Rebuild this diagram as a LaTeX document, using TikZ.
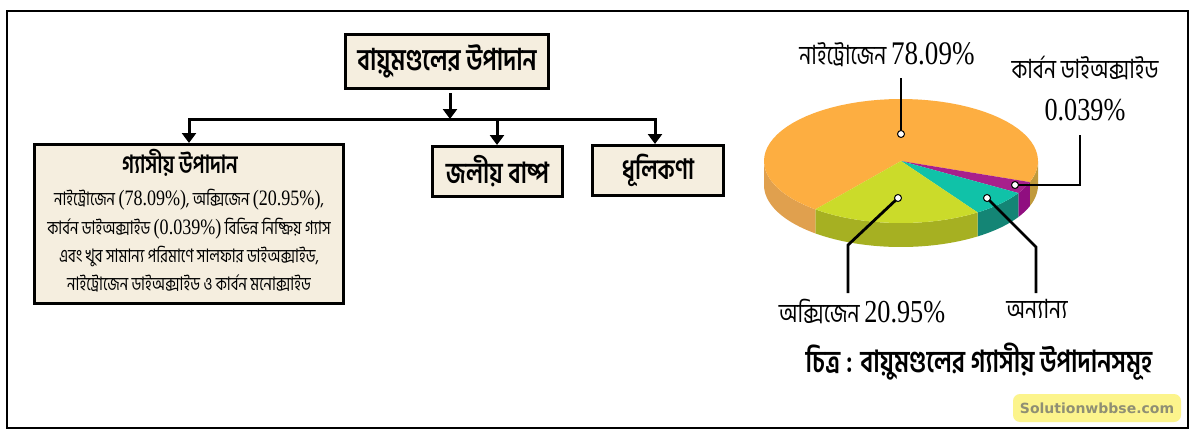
\documentclass[tikz,border=0pt]{standalone}
\usepackage{fontspec}
\usetikzlibrary{arrows.meta}
\newfontfamily\bn[Script=Bengali,FakeStretch=0.8]{Hind Siliguri}
\newfontfamily\dg[FakeStretch=0.82]{Liberation Serif}
\newfontfamily\wm{DejaVu Sans}
\newcommand{\D}[1]{{\dg #1}}
\definecolor{boxfill}{HTML}{F5EEDF}
\definecolor{orangetop}{HTML}{FDAE41}
\definecolor{orangeside}{HTML}{E0A04E}
\definecolor{orangedark}{HTML}{C09A3C}
\definecolor{greentop}{HTML}{CBDB2A}
\definecolor{greenside}{HTML}{A6B022}
\definecolor{tealtop}{HTML}{10C2A8}
\definecolor{tealside}{HTML}{148575}
\definecolor{purpletop}{HTML}{A8208C}
\definecolor{purpleside}{HTML}{900E80}
\definecolor{markfill}{HTML}{FCF48C}
\definecolor{marktext}{HTML}{8F8F74}
\tikzset{
  x=1pt,y=-1pt,
  flowbox/.style={draw=black,line width=2.6pt,fill=boxfill,inner sep=0pt,anchor=north west},
  arrowline/.style={line width=3pt,-{Triangle[width=14pt,length=10pt]}},
  trunk/.style={line width=3pt},
  leader/.style={line width=2.8pt,line join=miter},
  dotmark/.style={circle,draw=black,fill=white,line width=1pt,minimum size=7pt,inner sep=0pt},
  headtext/.style={font=\bn\bfseries\fontsize{30}{34}\selectfont,align=center},
  bodytext/.style={font=\bn\fontsize{18.6}{28.3}\selectfont,align=center},
  pielabel/.style={font=\bn\fontsize{26.5}{30}\selectfont,align=center},
}
\newcommand{\topslice}[3]{\fill[#1] (901,161) -- plot[domain=#2:#3,samples=60] ({901+137*cos(\x)},{161+62*sin(\x)}) -- cycle;}
\newcommand{\sideslice}[3]{\fill[#1] plot[domain=#2:#3,samples=40] ({901+137*cos(\x)},{161+62*sin(\x)}) -- plot[domain=#3:#2,samples=40] ({901+137*cos(\x)},{185+62*sin(\x)}) -- cycle;}
\begin{document}
\begin{tikzpicture}
\useasboundingbox (0,0) rectangle (1200,439);
\fill[white] (0,0) rectangle (1200,439);
\draw[black,line width=2pt] (7,11) rectangle (1188,428);

% flow chart boxes
\node[flowbox,minimum width=203.4pt,minimum height=54.4pt] (main) at (344,33) {};
\node[headtext] at (main.center) {বায়ুমণ্ডলের উপাদান};
\node[flowbox,minimum width=309.4pt,minimum height=159.4pt] (gas) at (33,143) {};
\node[headtext,font=\bn\bfseries\fontsize{25}{28}\selectfont] (gastitle) at (180,163) {গ্যাসীয় উপাদান};
\node[bodytext] (gasbody) at (189,241) {নাইট্রোজেন \D{\fontsize{22}{28.3}\selectfont (78.09\%)}, অক্সিজেন \D{\fontsize{22}{28.3}\selectfont (20.95\%)},\\
কার্বন ডাইঅক্সাইড \D{\fontsize{22}{28.3}\selectfont (0.039\%)} বিভিন্ন নিষ্ক্রিয় গ্যাস\\
এবং খুব সামান্য পরিমাণে সালফার ডাইঅক্সাইড,\\
নাইট্রোজেন ডাইঅক্সাইড ও কার্বন মনোক্সাইড};
\node[flowbox,minimum width=130.4pt,minimum height=50.4pt] (water) at (431,145) {};
\node[headtext,font=\bn\bfseries\fontsize{29}{32}\selectfont] at (water.center) {জলীয় বাষ্প};
\node[flowbox,minimum width=131.4pt,minimum height=50.4pt] (dust) at (591,144) {};
\node[headtext,font=\bn\bfseries\fontsize{28}{32}\selectfont] at (dust.center) {ধূলিকণা};

% connectors
\coordinate (hub) at (450,119);
\coordinate (start) at (450,93);
\coordinate (hl) at (189,119);
\coordinate (hm) at (497,119);
\coordinate (hr) at (655,119);
\draw[arrowline] (start) -- (hub);
\draw[trunk,line cap=butt,line join=miter] (gas.north -| hl) ++(0,-8) -- (hl) -- (hr) -- ++(0,8);
\draw[arrowline] (hl) -- (gas.north -| hl);
\draw[arrowline] (hm) -- (water.north -| hm);
\draw[arrowline] (hr) -- (dust.north -| hr);

% pie sides
\sideslice{orangedark}{0}{19.9}
\sideslice{purpleside}{19.9}{31.1}
\sideslice{tealside}{31.1}{56}
\sideslice{greenside}{56}{128.7}
\sideslice{orangeside}{128.7}{180}
% pie top
\topslice{orangetop}{128.7}{379.9}
\topslice{purpletop}{19.9}{31.1}
\topslice{tealtop}{31.1}{56}
\topslice{greentop}{56}{128.7}

% pie leaders
\coordinate (ln) at (901,78);
\coordinate (lc1) at (1080,185);
\coordinate (lc2) at (1080,135);
\coordinate (lo1) at (848,245);
\coordinate (lo2) at (848,293);
\coordinate (la1) at (1036,247);
\coordinate (la2) at (1036,293);
\coordinate (pn) at (901,134);
\coordinate (pc) at (1015,185);
\coordinate (po) at (898,198);
\coordinate (pa) at (987,198);
\draw[leader] (pn) -- (ln);
\draw[leader] (pc) -- (lc1) -- (lc2);
\draw[leader] (po) -- (lo1) -- (lo2);
\draw[leader] (pa) -- (la1) -- (la2);
\node[dotmark] (dn) at (pn) {};
\node[dotmark] (dc) at (pc) {};
\node[dotmark] (do) at (po) {};
\node[dotmark] (da) at (pa) {};

% pie labels
\node[pielabel] (nn) at (887,55) {নাইট্রোজেন \D{\fontsize{33}{34}\selectfont 78.09\%}};
\node[pielabel] (nc) at (1085,68) {কার্বন ডাইঅক্সাইড};
\node[pielabel] (ncv) at (1085,110) {\D{\fontsize{32}{34}\selectfont 0.039\%}};
\node[pielabel] (no) at (862,311) {অক্সিজেন \D{\fontsize{32}{34}\selectfont 20.95\%}};
\node[pielabel] (na) at (1037,309) {অন্যান্য};

% caption
\node[headtext,font=\bn\bfseries\fontsize{30.4}{34}\selectfont] (cap) at (979,362) {চিত্র : বায়ুমণ্ডলের গ্যাসীয় উপাদানসমূহ};

% watermark
\fill[markfill,rounded corners=7pt] (1013,394) rectangle (1181,422);
\node[font=\wm\bfseries\fontsize{14}{17}\selectfont,text=marktext] (mark) at (1097,408) {Solutionwbbse.com};
\end{tikzpicture}
\end{document}
